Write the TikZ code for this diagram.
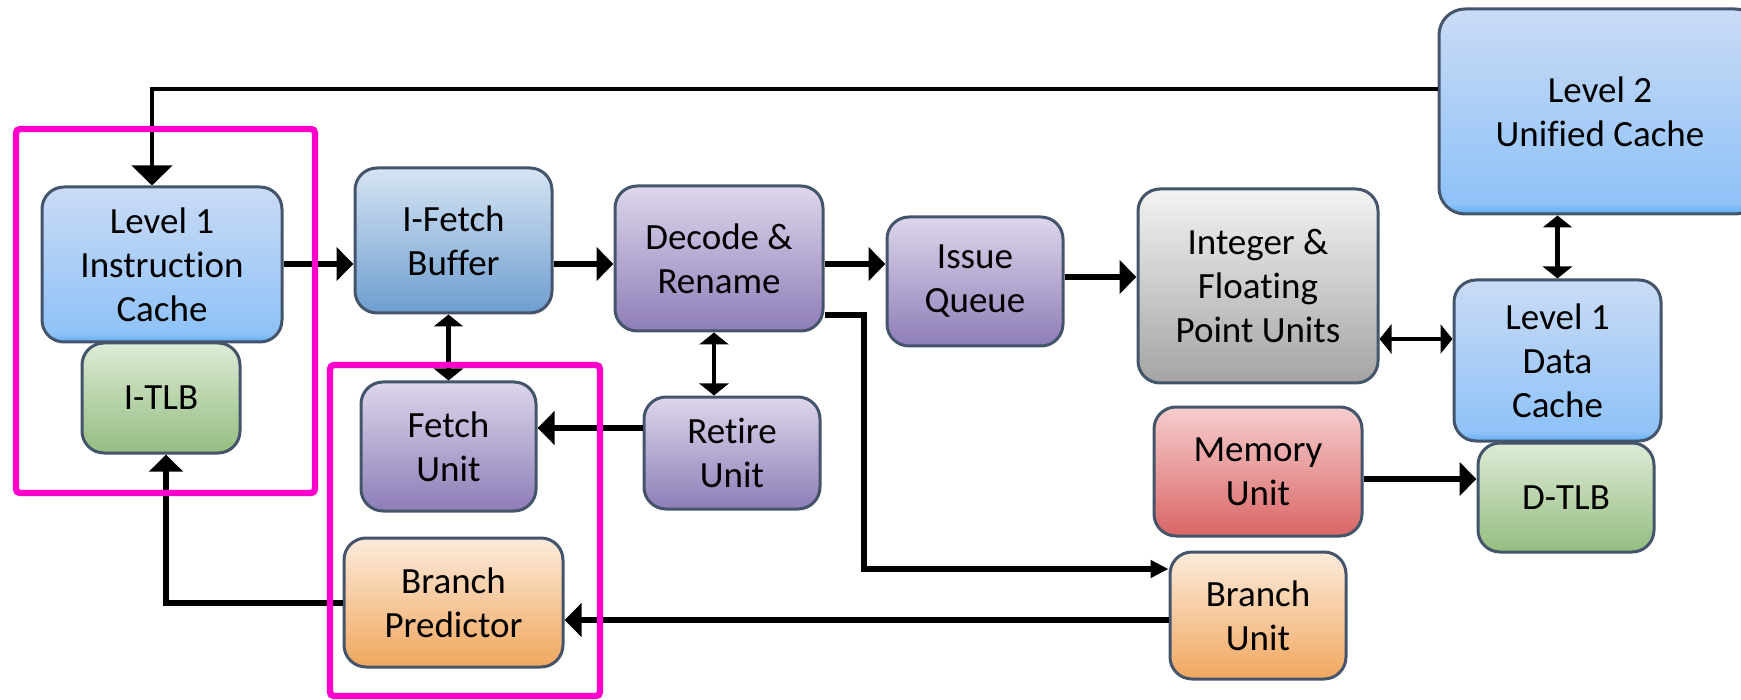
\documentclass[tikz,border=0pt]{standalone}
\usepackage{fontspec}
\setmainfont{Carlito}[Ligatures=NoCommon]
\usetikzlibrary{arrows.meta}

% outline and highlight colours
\definecolor{edge}{RGB}{68,84,106}
\definecolor{hilite}{RGB}{255,0,204}
% box fills (top / bottom of each vertical gradient)
\definecolor{bluetop}{RGB}{202,219,246}
\definecolor{bluemid}{RGB}{142,194,247}
\definecolor{bluebot}{RGB}{92,172,245}
\definecolor{steeltop}{RGB}{214,228,243}
\definecolor{steelbot}{RGB}{110,158,208}
\definecolor{purptop}{RGB}{221,214,235}
\definecolor{purpbot}{RGB}{142,125,184}
\definecolor{greentop}{RGB}{221,235,214}
\definecolor{greenbot}{RGB}{149,189,128}
\definecolor{graytop}{RGB}{243,243,243}
\definecolor{graybot}{RGB}{164,164,164}
\definecolor{redtop}{RGB}{246,206,206}
\definecolor{redbot}{RGB}{217,102,102}
\definecolor{orgtop}{RGB}{252,235,220}
\definecolor{orgbot}{RGB}{240,167,94}

% cache gradient with a brighter strip along the bottom edge
\pgfdeclareverticalshading{cacheblue}{100bp}{color(0bp)=(bluebot); color(25bp)=(bluebot); color(27.5bp)=(bluemid); color(75bp)=(bluetop); color(100bp)=(bluetop)}

\begin{document}
\begin{tikzpicture}[x=0.5pt, y=-0.5pt,
  box/.style={draw=edge, line width=1.5pt, rounded corners=11pt, align=center,
    inner sep=0pt, font=\fontsize{18.5}{22}\selectfont},
  cache/.style={box, shading=cacheblue},
  steel/.style={box, top color=steeltop, bottom color=steelbot},
  purp/.style={box, top color=purptop, bottom color=purpbot},
  green/.style={box, top color=greentop, bottom color=greenbot},
  grey/.style={box, top color=graytop, bottom color=graybot},
  red/.style={box, top color=redtop, bottom color=redbot},
  org/.style={box, top color=orgtop, bottom color=orgbot},
  conn/.style={draw=black, line width=3pt, -{Triangle[length=8.5pt,width=16.5pt]}},
  dconn/.style={draw=black, line width=2.2pt,
    {Triangle[length=6pt,width=14.5pt]}-{Triangle[length=6pt,width=14.5pt]}},
  feed/.style={draw=black, line width=2.2pt, -{Triangle[length=10pt,width=20pt]}},
  brk/.style={draw=black, line width=2.6pt, -{Triangle[length=9pt,width=8.5pt]}},
  group/.style={draw=hilite, line width=3.2pt, rounded corners=2pt}
]
\useasboundingbox (0,0) rectangle (1741,700);
\clip (0,0) rectangle (1741,700);

% ---- units ----
\node[cache, minimum width=120pt, minimum height=77.5pt] (l1i) at (162,264.5) {Level 1\\Instruction\\Cache};
\node[green, minimum width=79pt, minimum height=55pt] (itlb) at (161,398) {I-TLB};
\node[steel, minimum width=98.5pt, minimum height=72.5pt] (ifb) at (453.5,240.5) {I-Fetch\\Buffer};
\node[purp, minimum width=87.5pt, minimum height=64.5pt] (fetch) at (448.5,446.5) {Fetch\\Unit};
\node[purp, minimum width=88pt, minimum height=56pt] (retire) at (732,453) {Retire\\Unit};
\node[org, minimum width=109.5pt, minimum height=64.5pt] (bp) at (453.5,602.5) {Branch\\Predictor};
\node[purp, minimum width=104pt, minimum height=72.5pt] (decode) at (719,258.5) {Decode \&\\Rename};
\node[purp, minimum width=88pt, minimum height=64.5pt] (issue) at (975,281.5) {Issue\\Queue};
\node[grey, minimum width=120pt, minimum height=97pt] (intfp) at (1258,286) {Integer \&\\Floating\\Point Units};
\node[cache, minimum width=103.5pt, minimum height=80.5pt] (l1d) at (1557.5,360.5) {Level 1\\Data\\Cache};
\node[cache, rounded corners=13pt, minimum width=161pt, minimum height=102.5pt] (l2) at (1600,111.5) {Level 2\\Unified Cache};
\node[red, minimum width=104pt, minimum height=64.5pt] (mem) at (1258,471.5) {Memory\\Unit};
\node[green, minimum width=88pt, minimum height=54.5pt] (dtlb) at (1566,497.5) {D-TLB};
\node[org, minimum width=88pt, minimum height=63.5pt] (bu) at (1258,615.5) {Branch\\Unit};

% ---- routing points ----
\coordinate (refill) at (152,89);
\coordinate (pipe) at (0,264);
\coordinate (toexec) at (0,277);
\coordinate (toload) at (0,339);
\coordinate (totlb) at (0,479);
\coordinate (retx) at (714,0);
\coordinate (rety) at (0,428);
\coordinate (brout) at (864,315);
\coordinate (brin) at (0,569);
\coordinate (resolve) at (0,620);
\coordinate (predx) at (166,0);

% ---- connectors ----
\draw[feed] (l2.west |- refill) -- (refill) -- (refill |- l1i.north);
\draw[conn] (l1i.east |- pipe) -- (ifb.west |- pipe);
\draw[conn] (ifb.east |- pipe) -- (decode.west |- pipe);
\draw[conn] (decode.east |- pipe) -- (issue.west |- pipe);
\draw[conn] (issue.east |- toexec) -- (intfp.west |- toexec);
\draw[dconn] (intfp.east |- toload) -- (l1d.west |- toload);
\draw[dconn] (l2.south -| l1d.north) -- (l1d.north);
\draw[conn] (mem.east |- totlb) -- (dtlb.west |- totlb);
\draw[dconn] (ifb.south -| fetch.north) -- (fetch.north);
\draw[dconn] (decode.south -| retx) -- (retire.north -| retx);
\draw[conn] (retire.west |- rety) -- (fetch.east |- rety);
\draw[brk] (decode.east |- brout) -- (brout) -- (brout |- brin) -- (bu.west |- brin);
\draw[conn] (bu.west |- resolve) -- (bp.east |- resolve);
\draw[conn] (bp.west) -- (predx |- bp.west) -- (predx |- itlb.south);

% ---- highlighted groups ----
\draw[group] (16,129) rectangle (315,493);
\draw[group] (330,365) rectangle (600,696);
\end{tikzpicture}
\end{document}
